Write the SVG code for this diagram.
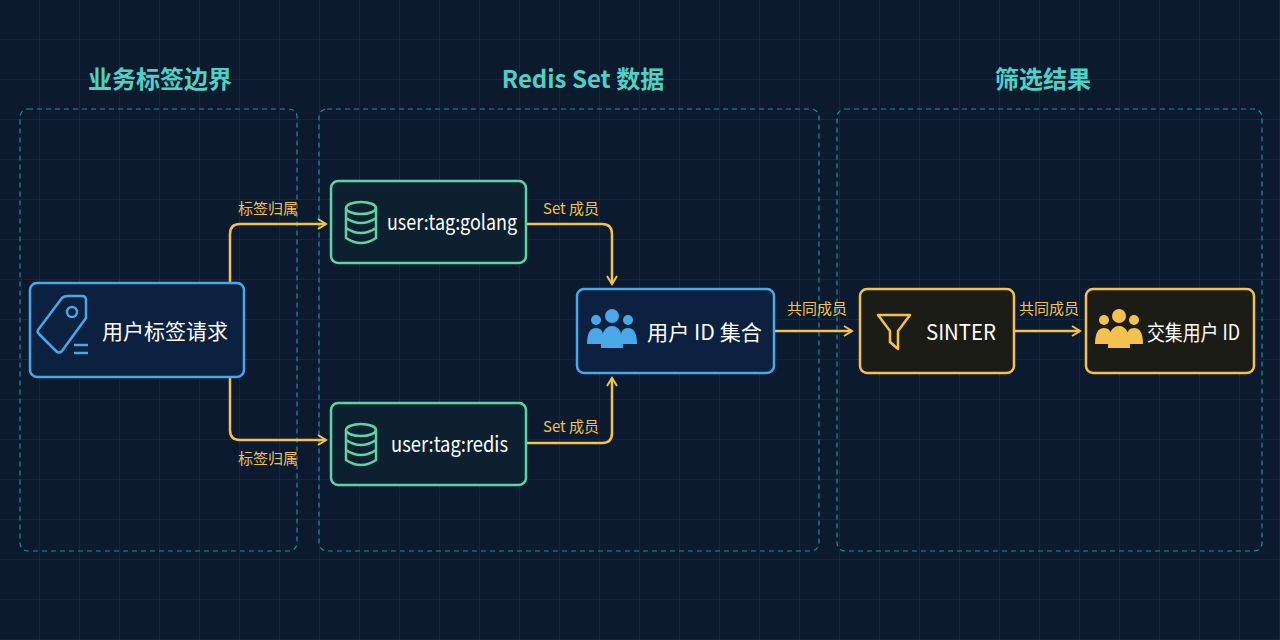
<svg xmlns="http://www.w3.org/2000/svg" width="1280" height="640" viewBox="0 0 1280 640">
<defs>
<pattern id="grid" width="40" height="40" patternUnits="userSpaceOnUse"><path d="M40 0V40H0" fill="none" stroke="#1a3350" stroke-width="1"/></pattern>
<marker id="arr" viewBox="0 0 12 12" refX="10" refY="6" markerWidth="12" markerHeight="12" markerUnits="userSpaceOnUse" orient="auto"><path d="M2 1L10 6L2 11" fill="none" stroke="#f2c14e" stroke-width="2"/></marker>
<style>
.t{font-family:"Noto Sans CJK SC","Noto Sans",sans-serif;}
.title{fill:#4fd1c5;font-size:24px;font-weight:bold;text-anchor:middle}
.grp{fill:none;stroke:#2a8aa0;stroke-width:1.2;stroke-dasharray:5 4}
.lbl{fill:#f2c14e;font-size:15px;text-anchor:middle}
.nt{fill:#fff;font-size:21px;dominant-baseline:central}
.c{fill:none;stroke:#f2c14e;stroke-width:2.5;marker-end:url(#arr)}
.blue{fill:#0c2140;stroke:#4aa8e8;stroke-width:2.5}
.green{fill:#0d2030;stroke:#5ed3a8;stroke-width:2.5}
.yel{fill:#1c1c16;stroke:#f2c14e;stroke-width:2.5}
</style>
</defs>
<rect width="1280" height="640" fill="#0b1a2e"/>
<rect width="1280" height="640" fill="url(#grid)"/>
<g class="t">
<text class="title" x="160" y="88">业务标签边界</text>
<text class="title" x="583" y="88">Redis Set 数据</text>
<text class="title" x="1043" y="88">筛选结果</text>
</g>
<rect class="grp" x="20" y="109" width="277" height="442" rx="8"/>
<rect class="grp" x="319" y="109" width="500" height="442" rx="8"/>
<rect class="grp" x="837" y="109" width="425" height="442" rx="8"/>
<g id="connectors">
<path class="c" d="M230 283V234Q230 224 240 224H326"/>
<path class="c" d="M230 377V430Q230 440 240 440H326"/>
<path class="c" d="M526 224H602Q612 224 612 234V284"/>
<path class="c" d="M526 443H602Q612 443 612 433V378"/>
<path class="c" d="M774 331H852"/>
<path class="c" d="M1014 331H1080"/>
<g class="t">
<text class="lbl" x="268" y="214">标签归属</text>
<text class="lbl" x="268" y="464">标签归属</text>
<text class="lbl" x="571" y="214">Set 成员</text>
<text class="lbl" x="571" y="432">Set 成员</text>
<text class="lbl" x="817" y="314">共同成员</text>
<text class="lbl" x="1049" y="314">共同成员</text>
</g>
</g>
<g id="req">
<rect class="blue" x="30" y="283" width="214" height="94" rx="7"/>
<g fill="none" stroke="#4aa8e8" stroke-width="2.5" stroke-linejoin="round">
<path d="M38 330L62 298Q64 296 68 296H82Q86 296 86 300V318L62 351Q59 354 56 351L39 334Q37 332 38 330Z"/>
<circle cx="72" cy="312" r="5"/>
<path d="M74 345H88M74 353H88"/>
</g>
<text class="t nt" x="102" y="330" textLength="126" lengthAdjust="spacingAndGlyphs">用户标签请求</text>
</g>
<g id="golang">
<rect class="green" x="331" y="181" width="195" height="82" rx="7"/>
<g fill="none" stroke="#5ed3a8" stroke-width="2.5"><ellipse cx="361" cy="208" rx="15" ry="6"/><path d="M346 208V238Q361 248 376 238V208M346 218Q361 228 376 218M346 228Q361 238 376 228"/></g>
<text class="t nt" x="387" y="221" textLength="130" lengthAdjust="spacingAndGlyphs">user:tag:golang</text>
</g>
<g id="redis">
<rect class="green" x="331" y="403" width="195" height="82" rx="7"/>
<g fill="none" stroke="#5ed3a8" stroke-width="2.5"><ellipse cx="361" cy="430" rx="15" ry="6"/><path d="M346 430V460Q361 470 376 460V430M346 440Q361 450 376 440M346 450Q361 460 376 450"/></g>
<text class="t nt" x="391" y="443" textLength="117" lengthAdjust="spacingAndGlyphs">user:tag:redis</text>
</g>
<g id="idset">
<rect class="blue" x="577" y="289" width="197" height="84" rx="7"/>
<g fill="#4aa8e8"><circle cx="596" cy="320" r="5"/><circle cx="628" cy="320" r="5"/><circle cx="612" cy="316" r="7"/><path d="M587 344Q587 328 596 328Q603 328 603 336V344Z"/><path d="M637 344Q637 328 628 328Q621 328 621 336V344Z"/><path d="M601 348Q601 326 612 326Q623 326 623 348Z"/></g>
<text class="t nt" x="647" y="331" textLength="115" lengthAdjust="spacingAndGlyphs">用户 ID 集合</text>
</g>
<g id="sinter">
<rect class="yel" x="860" y="289" width="154" height="84" rx="7"/>
<path d="M878 315H910L898 331V349L890 342V331Z" fill="none" stroke="#f2c14e" stroke-width="2.5" stroke-linejoin="round"/>
<text class="t nt" x="926" y="331" textLength="70" lengthAdjust="spacingAndGlyphs">SINTER</text>
</g>
<g id="result">
<rect class="yel" x="1086" y="289" width="168" height="84" rx="7"/>
<g fill="#f2c14e"><circle cx="1104" cy="320" r="5"/><circle cx="1134" cy="320" r="5"/><circle cx="1119" cy="316" r="7"/><path d="M1095 344Q1095 328 1104 328Q1111 328 1111 336V344Z"/><path d="M1143 344Q1143 328 1134 328Q1127 328 1127 336V344Z"/><path d="M1108 348Q1108 326 1119 326Q1130 326 1130 348Z"/></g>
<text class="t nt" x="1147" y="331" textLength="93" lengthAdjust="spacingAndGlyphs">交集用户 ID</text>
</g>
</svg>
